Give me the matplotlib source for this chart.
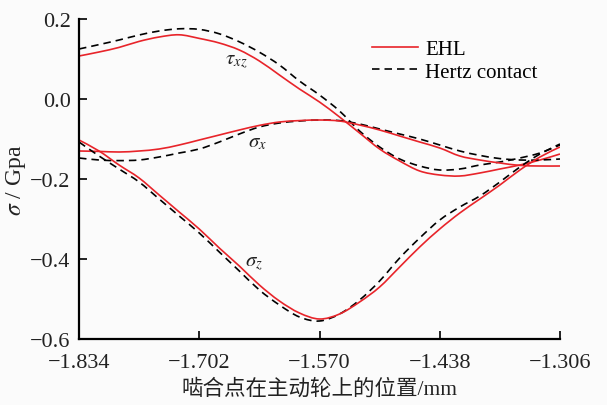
import numpy as np
import matplotlib
matplotlib.use('Agg')
import matplotlib.pyplot as plt
from matplotlib.path import Path
from matplotlib.patches import PathPatch
from matplotlib.lines import Line2D

plt.rcParams['font.family'] = ['Liberation Serif', 'Noto Sans CJK SC']
plt.rcParams['mathtext.fontset'] = 'stix'

# position along the driving gear (mm)
x = [-1.834, -1.812, -1.790, -1.768, -1.746, -1.724, -1.702, -1.680, -1.658,
     -1.636, -1.614, -1.592, -1.570, -1.548, -1.526, -1.504, -1.482, -1.460,
     -1.438, -1.416, -1.394, -1.372, -1.350, -1.328, -1.306]

# EHL results (GPa)
sz_ehl = [-0.1025, -0.130, -0.165, -0.1975, -0.240, -0.2825, -0.325, -0.3725,
          -0.4175, -0.465, -0.505, -0.535, -0.550, -0.5375, -0.5075, -0.470,
          -0.420, -0.370, -0.325, -0.285, -0.250, -0.215, -0.1775, -0.145, -0.120]
txz_ehl = [0.1075, 0.1175, 0.129, 0.144, 0.155, 0.1605, 0.1515, 0.140, 0.1225,
           0.095, 0.060, 0.025, -0.0075, -0.045, -0.085, -0.125, -0.155, -0.180,
           -0.190, -0.1925, -0.185, -0.175, -0.165, -0.1525, -0.1375]
sx_ehl = [-0.130, -0.131, -0.1325, -0.130, -0.125, -0.115, -0.1025, -0.090,
          -0.0775, -0.066, -0.0575, -0.054, -0.0525, -0.055, -0.065, -0.0775,
          -0.0925, -0.1075, -0.1225, -0.1425, -0.1525, -0.160, -0.166, -0.1675, -0.1675]

# Hertz contact results (GPa)
sz_hz = [-0.1075, -0.1425, -0.175, -0.2075, -0.250, -0.2925, -0.335, -0.3825,
         -0.430, -0.4775, -0.515, -0.545, -0.555, -0.5375, -0.5025, -0.455,
         -0.3975, -0.3475, -0.3025, -0.270, -0.2425, -0.2075, -0.170, -0.1375, -0.1125]
txz_hz = [0.125, 0.136, 0.1475, 0.160, 0.170, 0.1755, 0.174, 0.163, 0.143,
          0.117, 0.085, 0.045, 0.010, -0.030, -0.080, -0.120, -0.150, -0.1675,
          -0.1775, -0.175, -0.165, -0.1575, -0.1475, -0.135, -0.115]
sx_hz = [-0.1475, -0.1525, -0.154, -0.1525, -0.145, -0.135, -0.125, -0.1075,
         -0.0875, -0.070, -0.060, -0.055, -0.0525, -0.054, -0.0625, -0.075,
         -0.0875, -0.100, -0.115, -0.130, -0.141, -0.149, -0.1525, -0.1525, -0.150]

xticks = [-1.834, -1.702, -1.570, -1.438, -1.306]
yticks = [-0.6, -0.4, -0.2, 0.0, 0.2]


def smooth_path(xs, ys):
    # Catmull-Rom through the points, drawn as cubic Bezier segments
    pts = np.column_stack([xs, ys])
    n = len(pts)
    verts = [pts[0]]
    codes = [Path.MOVETO]
    for i in range(n - 1):
        p0 = pts[max(i - 1, 0)]
        p1 = pts[i]
        p2 = pts[i + 1]
        p3 = pts[min(i + 2, n - 1)]
        verts += [p1 + (p2 - p0) / 6, p2 - (p3 - p1) / 6, p2]
        codes += [Path.CURVE4] * 3
    return Path(verts, codes)


fig = plt.figure(figsize=(6.07, 4.06), dpi=100, facecolor='#fbfbfb')
ax = fig.add_axes([79/607, 1-340/406, 481/607, 320/406])
ax.set_facecolor('#fbfbfb')

red = '#e8242a'
dash = (0, (4.5, 3))
styles = {'ehl': dict(edgecolor=red, lw=1.2, ls='-'),
          'hz': dict(edgecolor='black', lw=1.2, ls=dash)}

for ys, kind in [(txz_hz, 'hz'), (txz_ehl, 'ehl'), (sx_hz, 'hz'), (sx_ehl, 'ehl'),
                 (sz_hz, 'hz'), (sz_ehl, 'ehl')]:
    ax.add_patch(PathPatch(smooth_path(x, ys), fill=False, **styles[kind]))

ax.text(-1.6735, 0.097, r'$\tau_{xz}$', fontsize=15, color='#222222', va='center')
ax.text(-1.6485, -0.108, r'$\sigma_x$', fontsize=15, color='#222222', va='center')
ax.text(-1.652, -0.41, r'$\sigma_z$', fontsize=15, color='#222222', va='center')

ax.set_xlim(-1.834, -1.306)
ax.set_ylim(-0.6, 0.2)
ax.set_xticks(xticks)
ax.set_xticklabels([('%.3f' % v).replace('-', '\u2212') for v in xticks])
ax.set_yticks(yticks)
ax.set_yticklabels([('%.1f' % v).replace('-', '\u2212') for v in yticks])
for s in ['top', 'right']:
    ax.spines[s].set_visible(False)
for s in ['left', 'bottom']:
    ax.spines[s].set_linewidth(1.6)
ax.tick_params(direction='in', length=6, width=1.4, labelsize=16, pad=10,
               colors='#222222')
ax.tick_params(axis='y', pad=6)

ax.set_xlabel('啮合点在主动轮上的位置/mm', fontsize=15.5, color='#222222', labelpad=5)
ax.set_ylabel(r'$\sigma$ / Gpa', fontsize=17, color='#222222', labelpad=2)

handles = [Line2D([], [], color=red, lw=1.2),
           Line2D([], [], color='black', lw=1.2, ls=dash)]
ax.legend(handles, ['EHL', 'Hertz contact'], loc='upper left',
          bbox_to_anchor=(362/607, 1-30/406), bbox_transform=fig.transFigure,
          frameon=False, fontsize=15, handlelength=2.2, handletextpad=0.33,
          labelspacing=0.15, borderpad=0)

fig.savefig('out.png', dpi=100, facecolor=fig.get_facecolor())
